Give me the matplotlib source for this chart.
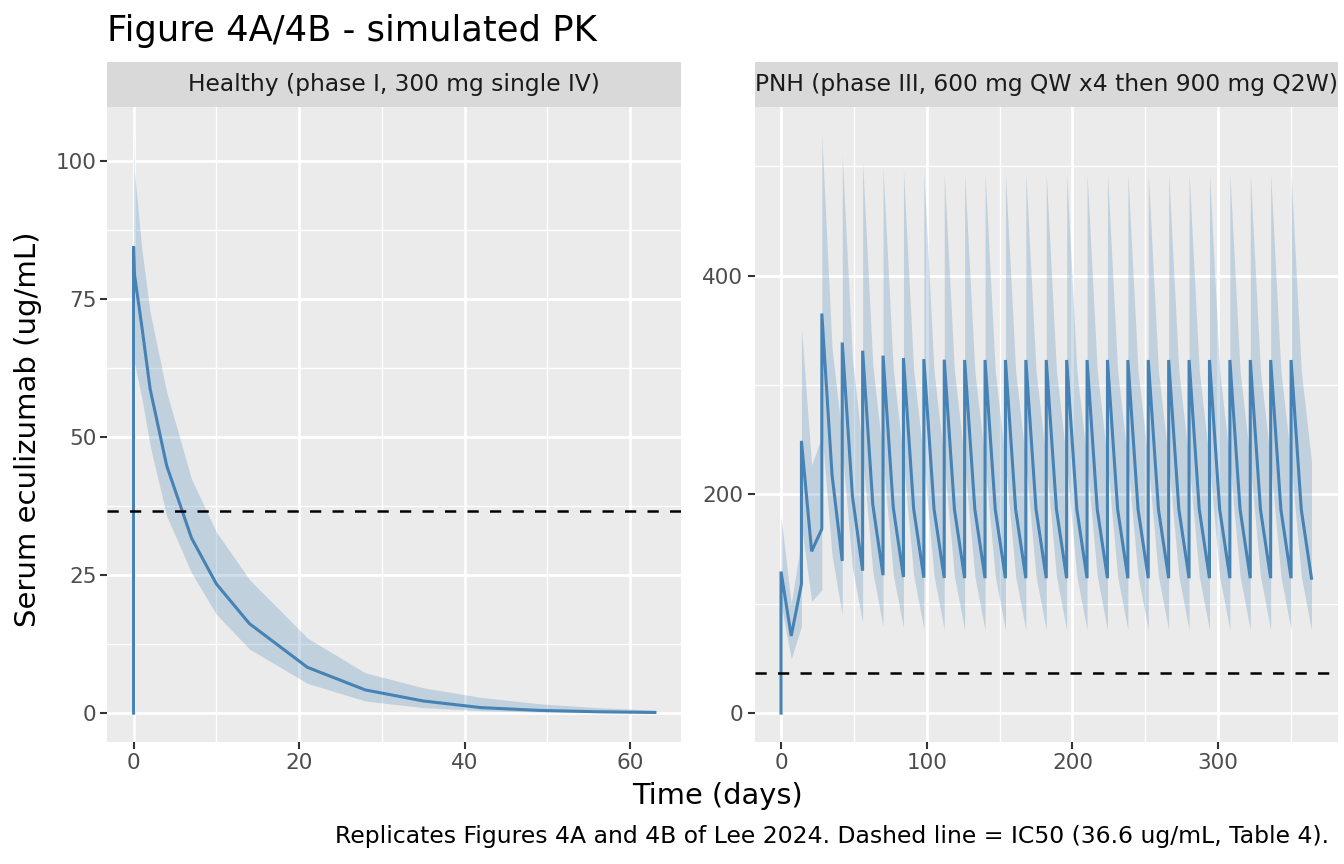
import matplotlib
matplotlib.use("Agg")
import matplotlib.pyplot as plt
from matplotlib.ticker import FixedLocator

# ---------------- data ----------------
hv_time = [0, 0, 0.1, 1, 2, 4, 7, 10, 14, 21, 28, 35, 42, 49, 56, 63]
hv_median = [0, 84.5, 79.5, 70, 58.7, 44.8, 31.7, 23.4, 16.2, 8.3, 4.2, 2.2, 1.0, 0.5, 0.25, 0.12]
hv_upper = [0, 104.5, 98, 84, 72.6, 58.1, 42.4, 32.8, 24.2, 13.6, 7.3, 4.6, 2.85, 1.7, 1.0, 0.55]
hv_lower = [0, 66, 63.5, 57, 48.4, 35.7, 25.4, 17.9, 11.6, 5.4, 2.2, 1.0, 0.45, 0.2, 0.1, 0.05]

pnh_time = [0, 0, 7, 14, 14, 21, 28,
            28, 35, 42, 42, 49, 56, 56, 63, 70, 70, 77, 84, 84, 91, 98,
            98, 105, 112, 112, 119, 126, 126, 133, 140, 140, 147, 154,
            154, 161, 168, 168, 175, 182, 182, 189, 196, 196, 203, 210,
            210, 217, 224, 224, 231, 238, 238, 245, 252, 252, 259, 266,
            266, 273, 280, 280, 287, 294, 294, 301, 308, 308, 315, 322,
            322, 329, 336, 336, 343, 350, 350, 357, 364]
pnh_median = [0, 129.5, 70.6, 118, 249, 148, 168.5,
              365.5, 218, 139.2, 339, 198.5, 130.3, 331.5, 190.5, 126.2, 327, 188.3, 124.5, 324.8, 187, 123.9,
              323.8, 186.6, 123.6, 323.3, 186.4, 123.5, 323.0, 186.3, 123.4, 323.0, 186.3, 123.4,
              323.0, 186.3, 123.4, 323.0, 186.3, 123.4, 323.0, 186.3, 123.4, 323.0, 186.3, 123.4,
              323.0, 186.3, 123.4, 323.0, 186.3, 123.4, 323.0, 186.3, 123.4, 323.0, 186.3, 123.4,
              323.0, 186.3, 123.4, 323.0, 186.3, 123.4, 323.0, 186.3, 123.4, 323.0, 186.3, 123.4,
              323.0, 186.3, 123.4, 323.0, 186.3, 123.4, 323.0, 186.3, 123.4]
pnh_upper = [0, 179.5, 100.4, 158.4, 353, 226.9, 253.2,
             528, 334, 252, 510, 324, 240, 504, 318, 235, 499, 315, 232, 497, 314, 231,
             495, 313, 230.5, 494, 313, 230.4, 494, 313, 230.4, 494, 313, 230.4,
             494, 313, 230.4, 494, 313, 230.4, 494, 313, 230.4, 494, 313, 230.4,
             494, 313, 230.4, 494, 313, 230.4, 494, 313, 230.4, 494, 313, 230.4,
             494, 313, 230.4, 494, 313, 230.4, 494, 313, 230.4, 494, 313, 230.4,
             494, 313, 230.4, 494, 313, 230.4, 494, 313, 230.4]
pnh_lower = [0, 100, 49.5, 79.4, 172, 102.2, 112.7,
             258, 144.3, 89.9, 240, 133, 82.8, 235, 129, 79.4, 232, 127, 78, 230, 126, 77,
             229, 125.5, 76.5, 228.5, 125.2, 76.2, 228, 125, 76, 228, 125, 76,
             228, 125, 76, 228, 125, 76, 228, 125, 76, 228, 125, 76,
             228, 125, 76, 228, 125, 76, 228, 125, 76, 228, 125, 76,
             228, 125, 76, 228, 125, 76, 228, 125, 76, 228, 125, 76,
             228, 125, 76, 228, 125, 76, 228, 125, 76]

ic50 = 36.6
strip_labels = ["Healthy (phase I, 300 mg single IV)",
                "PNH (phase III, 600 mg QW x4 then 900 mg Q2W)"]
title = "Figure 4A/4B - simulated PK"
xlabel = "Time (days)"
ylabel = "Serum eculizumab (ug/mL)"
caption = "Replicates Figures 4A and 4B of Lee 2024. Dashed line = IC50 (36.6 ug/mL, Table 4)."

hv_xmajor = [0, 20, 40, 60]
hv_xminor = [10, 30, 50]
hv_ymajor = [0, 25, 50, 75, 100]
hv_yminor = [12.5, 37.5, 62.5, 87.5]
pnh_xmajor = [0, 100, 200, 300]
pnh_xminor = [50, 150, 250, 350]
pnh_ymajor = [0, 200, 400]
pnh_yminor = [100, 300, 500]

# ---------------- style ----------------
W, H = 1344, 864
plt.rcParams['font.family'] = ['DejaVu Sans']
fig = plt.figure(figsize=(W / 100, H / 100), dpi=100)
fig.patch.set_facecolor('white')

LINE = '#4682B4'
PANEL_BG = '#EBEBEB'
STRIP_BG = '#D9D9D9'
TICK_FS = 15.5
STRIP_FS = 16.8


def px_axes(x0, y0, x1, y1):
    return fig.add_axes([x0 / W, 1 - y1 / H, (x1 - x0) / W, (y1 - y0) / H])


def style_panel(ax, xmaj, xmin, ymaj, ymin):
    ax.set_facecolor(PANEL_BG)
    for s in ax.spines.values():
        s.set_visible(False)
    ax.xaxis.set_major_locator(FixedLocator(xmaj))
    ax.xaxis.set_minor_locator(FixedLocator(xmin))
    ax.yaxis.set_major_locator(FixedLocator(ymaj))
    ax.yaxis.set_minor_locator(FixedLocator(ymin))
    ax.grid(which='major', color='white', lw=1.95)
    ax.grid(which='minor', color='white', lw=1.0)
    ax.set_axisbelow(True)
    ax.tick_params(which='major', length=5, width=1.5, color='#333333',
                   labelsize=TICK_FS, labelcolor='#4D4D4D', pad=3)
    ax.tick_params(which='minor', length=0)
    ax.margins(x=0.05, y=0.05)


def strip(x0, x1, label):
    s = px_axes(x0, 62, x1, 107)
    s.set_facecolor(STRIP_BG)
    s.set_xticks([])
    s.set_yticks([])
    for sp in s.spines.values():
        sp.set_visible(False)
    t = s.text(0.5, 0.5, label, transform=s.transAxes, ha='center', va='center',
               fontsize=STRIP_FS, color='#1A1A1A')
    t.set_clip_box(s.bbox)
    t.set_clip_on(True)
    return s


ax1 = px_axes(107.5, 107, 681, 742)
ax2 = px_axes(754.5, 107, 1338, 742)

for ax, t, med, lo, up in [(ax1, hv_time, hv_median, hv_lower, hv_upper),
                           (ax2, pnh_time, pnh_median, pnh_lower, pnh_upper)]:
    ax.fill_between(t, lo, up, color=LINE, alpha=0.25, lw=0)
    ax.plot(t, med, color=LINE, lw=2.2, solid_joinstyle='miter')
    ax.axhline(ic50, color='black', lw=1.8, ls=(0, (4.5, 4.5)))

style_panel(ax1, hv_xmajor, hv_xminor, hv_ymajor, hv_yminor)
style_panel(ax2, pnh_xmajor, pnh_xminor, pnh_ymajor, pnh_yminor)

strip(107.5, 681, strip_labels[0])
strip(754.5, 1338, strip_labels[1])

fig.text(107.5 / W, 1 - 41 / H, title, ha='left', va='baseline', fontsize=25.4, color='black')
fig.text(718 / W, 1 - 796 / H, xlabel, ha='center', va='center',
         fontsize=20.8, color='black')
fig.text(28 / W, 1 - 429 / H, ylabel, ha='center', va='center', rotation=90,
         fontsize=21, color='black')
fig.text(1329 / W, 1 - 837 / H, caption, ha='right', va='center', fontsize=16.9, color='black')

fig.savefig('out.png', dpi=100, facecolor='white')
